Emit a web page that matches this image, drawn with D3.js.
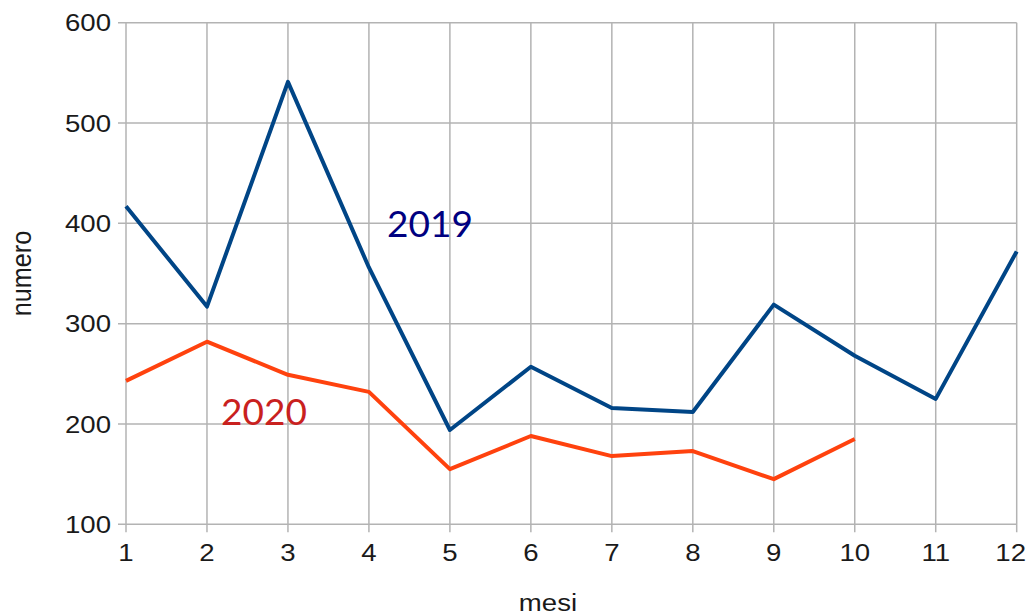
<!DOCTYPE html>
<html>
<head>
<meta charset="utf-8">
<script src="https://cdn.jsdelivr.net/npm/d3@7"></script>
<style>
  body { margin: 0; background: #fff; }
  svg text { font-family: "Liberation Sans", Arial, sans-serif; }
</style>
</head>
<body>
<div id="chart"></div>
<script>
// data
const months = [1, 2, 3, 4, 5, 6, 7, 8, 9, 10, 11, 12];
const values2019 = [417, 317, 541, 356, 194, 257, 216, 212, 319, 268, 225, 372];
const values2020 = [243, 282, 249, 232, 155, 188, 168, 173, 145, 185];
const yTicks = [100, 200, 300, 400, 500, 600];

const width = 1035, height = 615;
const margin = {top: 22.7, right: 18.3, bottom: 90.7, left: 126};
const stretch = 1.15; // text in the original is a bit wide

let svg = d3.select("#chart")
    .append("svg")
    .attr("width", width)
    .attr("height", height);

let x = d3.scaleLinear()
    .domain([1, 12])
    .range([margin.left, width - margin.right]);

let y = d3.scaleLinear()
    .domain([100, 600])
    .range([height - margin.bottom, margin.top]);

// grid
svg.append("g")
    .selectAll("line")
    .data(yTicks)
    .enter().append("line")
    .attr("x1", x(1) - 8).attr("x2", x(12))
    .attr("y1", d => y(d)).attr("y2", d => y(d))
    .attr("stroke", "#b3b3b3").attr("stroke-width", 1.5);

svg.append("g")
    .selectAll("line")
    .data(months)
    .enter().append("line")
    .attr("x1", d => x(d)).attr("x2", d => x(d))
    .attr("y1", y(600)).attr("y2", y(100) + 8)
    .attr("stroke", "#b3b3b3").attr("stroke-width", 1.5);

// tick labels
svg.append("g")
    .selectAll("text")
    .data(yTicks)
    .enter().append("text")
    .attr("transform", d => `translate(${x(1) - 15},${y(d)}) scale(${stretch},1)`)
    .attr("dy", "0.36em")
    .attr("text-anchor", "end")
    .style("font-size", "24px")
    .attr("fill", "#1a1a1a")
    .text(d => d);

svg.append("g")
    .selectAll("text")
    .data(months)
    .enter().append("text")
    .attr("transform", d => `translate(${d == 12 ? x(d) - 6 : x(d)},${y(100) + 37}) scale(${stretch},1)`)
    .attr("text-anchor", "middle")
    .style("font-size", "24px")
    .attr("fill", "#1a1a1a")
    .text(d => d);

// axis titles
svg.append("text")
    .attr("transform", `translate(31, ${(y(100) + y(600)) / 2}) rotate(-90) scale(1.05,1.15)`)
    .attr("text-anchor", "middle")
    .style("font-size", "24px")
    .attr("fill", "#1a1a1a")
    .text("numero");

svg.append("text")
    .attr("transform", `translate(548, 611) scale(${stretch},1)`)
    .attr("text-anchor", "middle")
    .style("font-size", "24px")
    .attr("fill", "#1a1a1a")
    .text("mesi");

// lines
let line = d3.line()
    .x((d, i) => x(months[i]))
    .y(d => y(d));

svg.append("path")
    .datum(values2019)
    .attr("fill", "none")
    .attr("stroke", "#004586")
    .attr("stroke-width", 4)
    .attr("stroke-linejoin", "round")
    .attr("d", line);

svg.append("path")
    .datum(values2020)
    .attr("fill", "none")
    .attr("stroke", "#ff420e")
    .attr("stroke-width", 4)
    .attr("stroke-linejoin", "round")
    .attr("d", line);

// series labels
svg.append("text")
    .attr("x", 387)
    .attr("y", 237)
    .style("font-family", "Lato, sans-serif")
    .style("font-size", "37px")
    .attr("fill", "#000080")
    .text("2019");

svg.append("text")
    .attr("x", 221)
    .attr("y", 425)
    .style("font-family", "Lato, sans-serif")
    .style("font-size", "37px")
    .attr("fill", "#c9211e")
    .text("2020");
</script>
</body>
</html>
